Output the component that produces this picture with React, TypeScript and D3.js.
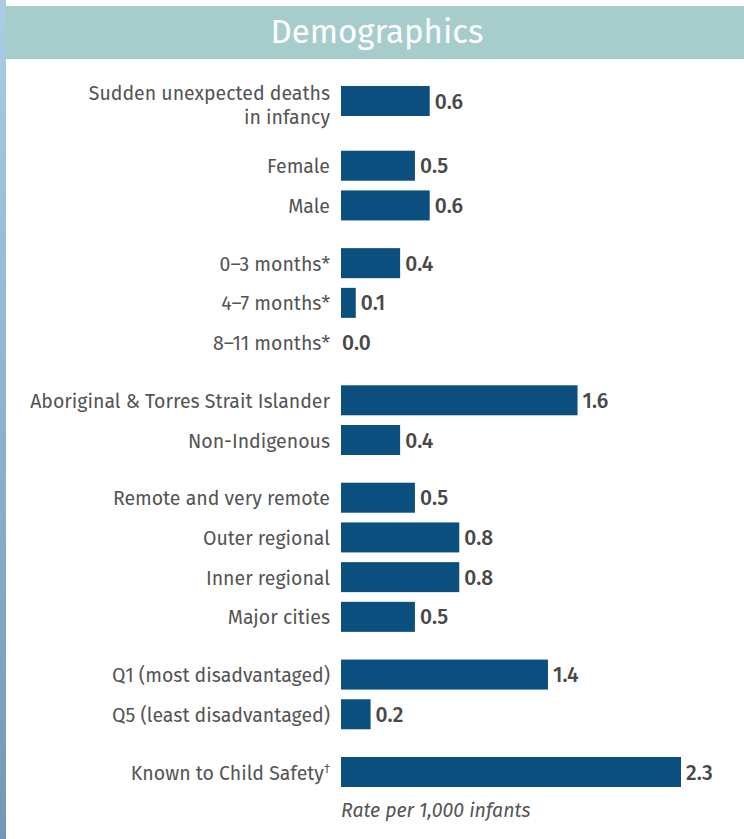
import React from "react";
import * as d3 from "d3";

const title = "Demographics";
const categories = [
  "Sudden unexpected deaths|in infancy",
  "Female",
  "Male",
  "0–3 months*",
  "4–7 months*",
  "8–11 months*",
  "Aboriginal & Torres Strait Islander",
  "Non-Indigenous",
  "Remote and very remote",
  "Outer regional",
  "Inner regional",
  "Major cities",
  "Q1 (most disadvantaged)",
  "Q5 (least disadvantaged)",
  "Known to Child Safety^†",
];
const values = [0.6, 0.5, 0.6, 0.4, 0.1, 0.0, 1.6, 0.4, 0.5, 0.8, 0.8, 0.5, 1.4, 0.2, 2.3];
const groups = [0, 1, 1, 2, 2, 2, 3, 3, 4, 4, 4, 4, 5, 5, 6];
const axisLabel = "Rate per 1,000 infants";

const W = 744;
const H = 839;
const FONT = "'Fira Sans', 'Noto Sans', 'Open Sans', sans-serif";

function Label({ text, x, y }: { text: string; x: number; y: number }) {
  const [main, sup] = text.split("^");
  return (
    <text x={x} y={y} textAnchor="end" fill="#545454" fontSize={19.5}>
      {main}
      {sup && (
        <tspan fontSize={12} dy={-7}>
          {sup}
        </tspan>
      )}
    </text>
  );
}

export default function App() {
  const gapUnits = 18 / 39.7;
  const slots: number[] = [];
  let pos = 0;
  categories.forEach((_, i) => {
    if (i > 0) {
      pos += 1;
      if (groups[i] !== groups[i - 1]) pos += gapUnits;
      if (i === 1) pos += 7 / 39.7;
    }
    slots.push(pos);
  });
  const y = d3.scaleLinear().domain([0, slots[slots.length - 1]]).range([101, 772]);
  const x = d3.scaleLinear().domain([0, 2.3]).range([341, 681]);
  const barH = 30;

  return (
    <svg
      width={W}
      height={H}
      style={{ position: "absolute", left: 0, top: 0, background: "#fff" }}
      fontFamily={FONT}
    >
      <defs>
        <linearGradient id="strip" x1="0" y1="0" x2="0" y2="1">
          <stop offset="0" stopColor="#aacde4" />
          <stop offset="1" stopColor="#7397b8" />
        </linearGradient>
      </defs>
      <rect x={0} y={0} width={6} height={H} fill="url(#strip)" />
      <rect x={6} y={6} width={W - 6} height={53} fill="#a6cdcc" />
      <text x={377} y={43} textAnchor="middle" fill="#fff" fontSize={33}>
        {title}
      </text>
      {categories.map((c, i) => {
        const cy = y(slots[i]);
        const lines = c.split("|");
        return (
          <g key={i}>
            {lines.length === 1 ? (
              <Label text={c} x={330} y={cy + 7.5} />
            ) : (
              <>
                <Label text={lines[0]} x={330} y={cy - 1} />
                <Label text={lines[1]} x={330} y={cy + 23} />
              </>
            )}
            {values[i] > 0 && (
              <rect x={x(0)} y={cy - barH / 2} width={x(values[i]) - x(0)} height={barH} fill="#0b4f7e" />
            )}
            <text
              x={x(values[i]) + (values[i] > 0 ? 5 : 1)}
              y={cy + 7.5}
              fill="#484848"
              fontSize={21}
              fontWeight={500}
            >
              {values[i].toFixed(1)}
            </text>
          </g>
        );
      })}
      <text x={341} y={817} fill="#555" fontSize={19.5} fontStyle="italic">
        {axisLabel}
      </text>
    </svg>
  );
}
